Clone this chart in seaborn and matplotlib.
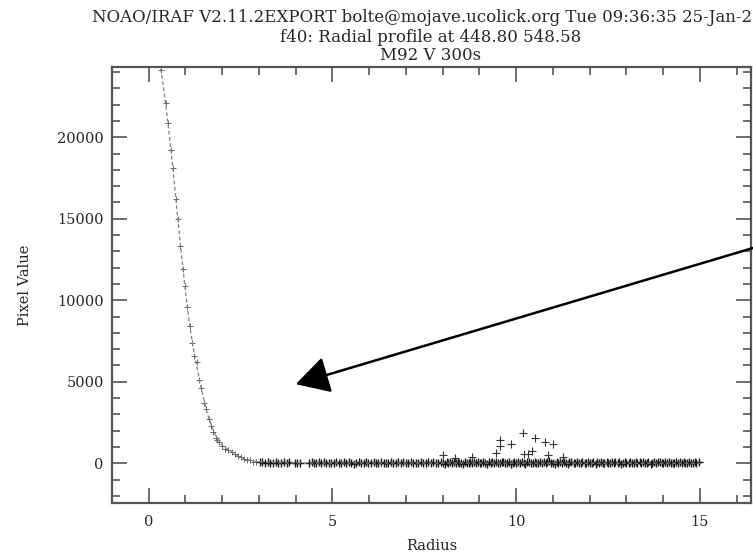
import matplotlib
matplotlib.use("Agg")
import matplotlib.pyplot as plt
from matplotlib.ticker import MultipleLocator
import seaborn as sns

# fitted profile
fit_radius = [0.20, 0.30, 0.40, 0.50, 0.60, 0.70, 0.80, 0.90, 1.00, 1.10, 1.20, 1.30,
              1.40, 1.50, 1.60, 1.70, 1.80, 1.90, 2.00, 2.20, 2.40, 2.60, 2.80, 3.00,
              3.50, 4.00, 15.0]
fit_value = [25700, 24600, 23100, 21300, 19300, 17100, 14800, 12600, 10500, 8700, 7200, 6000,
             4900, 3900, 3000, 2350, 1800, 1400, 1100, 780, 480, 280, 160, 90,
             40, 20, 0]

# pixels in the core
core_radius = [0.33, 0.46, 0.52, 0.61, 0.66, 0.74, 0.79, 0.86, 0.93, 0.99, 1.05, 1.12,
               1.18, 1.24, 1.31, 1.37, 1.43, 1.50, 1.56, 1.63, 1.70, 1.76, 1.82, 1.86,
               1.92, 2.00, 2.08, 2.16, 2.26, 2.34, 2.42, 2.50, 2.60, 2.67, 2.75, 2.84, 2.92]
core_value = [24100, 22100, 20900, 19200, 18100, 16200, 15000, 13300, 11900, 10900, 9600, 8400,
              7400, 6600, 6200, 5100, 4600, 3700, 3300, 2700, 2300, 1900, 1550, 1400,
              1300, 1050, 900, 820, 700, 560, 430, 380, 260, 200, 170, 100, 90]

# sky pixels
sky_radius = [3.02, 3.09, 3.16, 3.24, 3.31, 3.38, 3.46, 3.53, 3.60, 3.67, 3.75, 3.82, 3.97, 4.04, 4.11,
              4.36, 4.43, 4.49, 4.56, 4.63, 4.70, 4.77, 4.83, 4.90, 4.97, 5.04, 5.10, 5.17, 5.24, 5.31,
              5.38, 5.44, 5.51, 5.58, 5.65, 5.71, 5.78, 5.85, 5.92, 5.98, 6.05, 6.12, 6.19, 6.25, 6.32,
              6.39, 6.46, 6.52, 6.59, 6.66, 6.73, 6.79, 6.86, 6.93, 7.00, 7.06, 7.13, 7.20, 7.27, 7.33,
              7.40, 7.47, 7.54, 7.60, 7.67, 7.74, 7.81, 7.87, 7.94, 8.00, 8.05, 8.11, 8.15, 8.20, 8.26,
              8.30, 8.35, 8.41, 8.45, 8.50, 8.56, 8.60, 8.65, 8.71, 8.75, 8.80, 8.86, 8.90, 8.95, 9.01,
              9.05, 9.10, 9.16, 9.20, 9.25, 9.31, 9.35, 9.40, 9.46, 9.50, 9.55, 9.61, 9.65, 9.70, 9.76,
              9.80, 9.85, 9.91, 9.95, 10.00, 10.06, 10.10, 10.15, 10.21, 10.25, 10.30, 10.36, 10.40, 10.45, 10.51,
              10.55, 10.60, 10.66, 10.70, 10.75, 10.81, 10.85, 10.90, 10.96, 11.00, 11.05, 11.11, 11.15, 11.20, 11.26,
              11.30, 11.35, 11.41, 11.45, 11.50, 11.56, 11.60, 11.65, 11.71, 11.75, 11.80, 11.86, 11.90, 11.95, 12.01,
              12.05, 12.10, 12.16, 12.20, 12.25, 12.31, 12.35, 12.40, 12.46, 12.50, 12.55, 12.61, 12.65, 12.70, 12.76,
              12.80, 12.85, 12.91, 12.95, 13.00, 13.06, 13.10, 13.15, 13.21, 13.25, 13.30, 13.36, 13.40, 13.45, 13.51,
              13.55, 13.60, 13.66, 13.70, 13.75, 13.81, 13.85, 13.90, 13.96, 14.00, 14.05, 14.11, 14.15, 14.20, 14.26,
              14.30, 14.35, 14.41, 14.45, 14.50, 14.56, 14.60, 14.65, 14.71, 14.75, 14.80, 14.86, 14.90, 14.98]
sky_value = [60, 45, 30, 55, 20, 40, 65, 15, 35, 50, 25, 45, 30, 10, 40,
             35, 55, 20, 5, 45, 30, 60, 15, 40, 25, -10, 50, 35, 20, 45,
             10, 55, 30, -20, 40, 65, 25, 5, 50, 35, 15, 45, -5, 30, 60,
             20, 40, 10, 55, 35, -15, 45, 25, 70, 30, 5, 50, 20, 40, 15,
             60, 35, -10, 45, 25, 80, 30, 10, 55, 40, -30, 65, 20, 45, 5,
             50, 30, 90, 15, 40, -20, 60, 35, 10, 75, 25, 45, -5, 55, 30,
             20, 85, 40, -25, 60, 15, 50, 35, 100, 25, -15, 45, 70, 10, 40,
             55, -30, 35, 80, 20, 45, 5, 65, 30, -20, 50, 90, 15, 40, 60,
             25, -10, 75, 35, 55, 5, 45, 110, 20, 40, -35, 65, 30, 50, 15,
             60, 35, -20, 45, 80, 25, 10, 55, 40, -15, 70, 30, 5, 50, 35,
             20, 60, -25, 45, 30, 75, 10, 40, 55, -10, 35, 65, 20, 45, 5,
             50, -30, 40, 70, 25, 15, 55, 35, -5, 60, 30, 45, 10, 80, 20,
             40, 65, -20, 30, 55, 15, 45, 75, 25, -10, 50, 35, 60, 5, 40,
             30, 55, -15, 45, 20, 70, 35, 10, 50, 40, 25, 60, 15, 45]

# the bright pixels near r = 10
spike_radius = [8.02, 8.33, 8.79, 9.45, 9.56, 9.56, 9.86, 10.18, 10.22, 10.31, 10.42, 10.51,
                10.79, 10.86, 10.99, 11.27]
spike_value = [510, 320, 405, 610, 1430, 1060, 1180, 1880, 570, 570, 775, 1530,
               1325, 510, 1180, 405]

title_lines = ["NOAO/IRAF V2.11.2EXPORT bolte@mojave.ucolick.org Tue 09:36:35 25-Jan-2",
               "f40: Radial profile at 448.80 548.58",
               "M92 V 300s"]

sns.set_style("ticks")
plt.rcParams["font.family"] = ["DejaVu Serif"]
axis_grey = "#555555"

fig = plt.figure(figsize=(7.53, 5.54), dpi=100)
ax = fig.add_axes([112 / 753, 51 / 554, 639 / 753, 436 / 554])

# fit line + the measured pixels
sns.lineplot(x=fit_radius, y=fit_value, ax=ax, color="#808080", lw=0.9,
             linestyle=(0, (3, 2)), estimator=None, sort=False)
sns.scatterplot(x=core_radius, y=core_value, ax=ax, marker="+", color="#666666",
                s=22, linewidth=0.7)
sns.scatterplot(x=sky_radius, y=sky_value, ax=ax,
                marker="+", color="#1a1a1a", s=32, linewidth=1.0)
sns.scatterplot(x=spike_radius, y=spike_value, ax=ax,
                marker="+", color="#333333", s=28, linewidth=0.8)

ax.set_xlim(-1.0, 16.39)
ax.set_ylim(-2440, 24310)
ax.xaxis.set_major_locator(MultipleLocator(5))
ax.xaxis.set_minor_locator(MultipleLocator(1))
ax.yaxis.set_major_locator(MultipleLocator(5000))
ax.yaxis.set_minor_locator(MultipleLocator(1000))
ax.tick_params(which="both", direction="in", top=True, right=True,
               color=axis_grey, labelsize=10.5)
ax.tick_params(which="major", length=11, width=1.2)
ax.tick_params(which="minor", length=5.5, width=1.2)
ax.tick_params(axis="x", pad=9)
ax.tick_params(axis="y", pad=6)
for sp in ax.spines.values():
    sp.set_color(axis_grey)
    sp.set_linewidth(1.6)

ax.set_xlabel("Radius", fontsize=10.5)
ax.set_ylabel("Pixel Value", fontsize=10.5)
ax.xaxis.set_label_coords(0.5, -0.083)
ax.yaxis.set_label_coords(-0.125, 0.5)

ax.annotate("", xy=(4.0, 4850), xytext=(16.45, 13210),
            arrowprops=dict(arrowstyle="-|>,head_length=0.9,head_width=0.5",
                            mutation_scale=23, lw=1.8, color="black",
                            shrinkA=0, shrinkB=0),
            annotation_clip=False)

fig.text(92 / 753, 1 - 22.5 / 554, title_lines[0], ha="left", va="baseline", fontsize=12)
fig.text(431 / 753, 1 - 41.5 / 554, title_lines[1], ha="center", va="baseline", fontsize=12)
fig.text(431 / 753, 1 - 59.5 / 554, title_lines[2], ha="center", va="baseline", fontsize=12)

fig.savefig("out.png", dpi=100)
